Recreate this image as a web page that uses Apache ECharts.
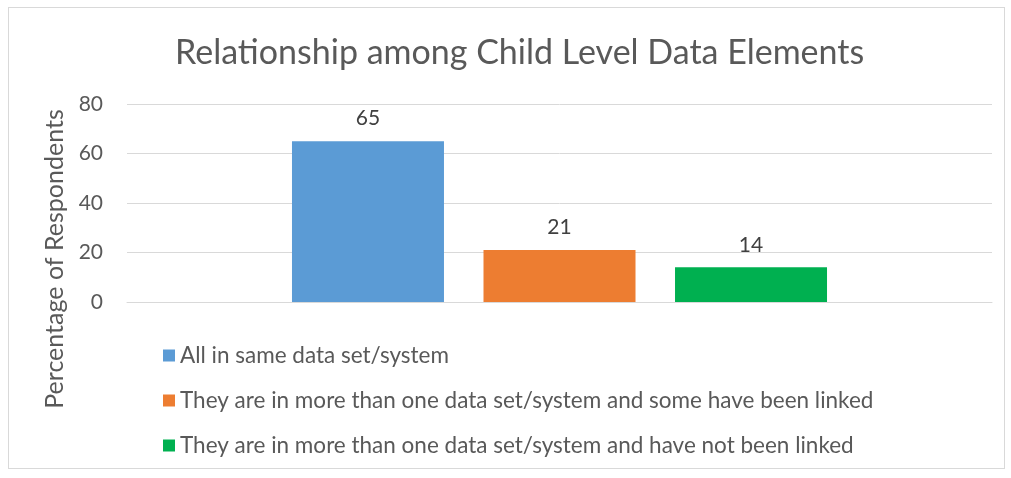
<!DOCTYPE html>
<html>
<head>
<meta charset="utf-8">
<script src="https://cdn.jsdelivr.net/npm/echarts@6/dist/echarts.min.js"></script>
<style>
  html, body { margin: 0; padding: 0; background: #fff; }
  #frame { position: absolute; left: 8px; top: 7px; width: 995px; height: 460px; border: 1px solid #d9d9d9; }
  #chart { position: absolute; left: 0; top: 0; width: 1011px; height: 478px; }
</style>
</head>
<body>
<div id="frame"></div>
<div id="chart"></div>
<script>
// chart data
const chartTitle = 'Relationship among Child Level Data Elements';
const yAxisName = 'Percentage of Respondents';
const categories = [''];
const seriesNames = [
    'All in same data set/system',
    'They are in more than one data set/system and some have been linked',
    'They are in more than one data set/system and have not been linked'
];
const seriesValues = [[65], [21], [14]];
const seriesColors = ['#5b9bd5', '#ed7d31', '#00b050'];
const yTicks = { min: 0, max: 80, interval: 20 };

const fontFamily = "Lato, 'Open Sans', sans-serif";
const textColor = '#595959';

let myChart = echarts.init(document.getElementById('chart'));

let series = seriesNames.map(function (name, i) {
    return {
        name: name,
        type: 'bar',
        data: seriesValues[i],
        barWidth: 152,
        barGap: '26%',
        itemStyle: { color: seriesColors[i] },
        label: {
            show: true,
            position: 'top',
            distance: 12,
            color: '#404040',
            fontSize: 21,
            fontFamily: fontFamily
        }
    };
});

let option = {
    animation: false,
    title: {
        text: chartTitle,
        left: 170,
        top: 31,
        textStyle: {
            color: textColor,
            fontSize: 34,
            fontWeight: 'normal',
            fontFamily: fontFamily
        }
    },
    legend: {
        orient: 'vertical',
        left: 158,
        top: 339,
        itemWidth: 12,
        itemHeight: 12,
        itemGap: 22,
        itemStyle: { borderWidth: 0 },
        icon: 'rect',
        textStyle: {
            color: textColor,
            fontSize: 22.5,
            fontFamily: fontFamily
        },
        data: seriesNames
    },
    grid: {
        left: 127,
        right: 19,
        top: 104,
        bottom: 176
    },
    xAxis: {
        type: 'category',
        data: categories,
        axisLine: { lineStyle: { color: '#d9d9d9' } },
        axisTick: { show: false },
        axisLabel: { show: false }
    },
    yAxis: {
        type: 'value',
        min: yTicks.min,
        max: yTicks.max,
        interval: yTicks.interval,
        name: yAxisName,
        nameLocation: 'middle',
        nameGap: 57,
        nameRotate: 90,
        nameTextStyle: {
            color: textColor,
            fontSize: 25,
            fontFamily: fontFamily,
            padding: [0, 112, 0, 0]
        },
        axisLine: { show: false },
        axisTick: { show: false },
        axisLabel: {
            color: textColor,
            fontSize: 21,
            margin: 24,
            fontFamily: fontFamily
        },
        splitLine: { lineStyle: { color: '#d9d9d9' } }
    },
    series: series
};

myChart.setOption(option);
</script>
</body>
</html>
